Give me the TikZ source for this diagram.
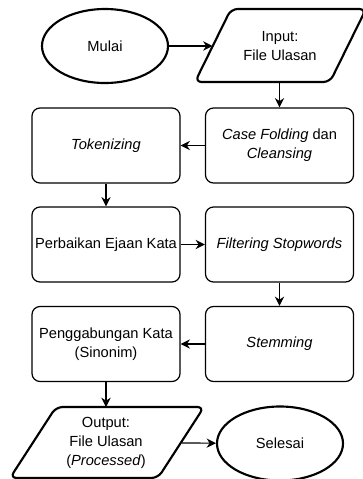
\documentclass[tikz,border=0pt]{standalone}
\usepackage{fontspec}
\setmainfont{Liberation Sans}
\usetikzlibrary{shapes.geometric,arrows.meta}

\tikzset{
  proses/.style={draw, rounded corners=6pt, line width=0.9pt,
    minimum width=111pt, minimum height=56.25pt, align=center, inner sep=2pt},
  terminal/.style={draw, ellipse, line width=1.6pt,
    minimum width=94.5pt, minimum height=55.5pt, align=center},
  data/.style={draw, line width=1.6pt, rounded corners=5pt, line join=round},
  teks/.style={align=center, inner sep=1pt},
  panah/.style={-{Stealth[length=7pt,width=7pt]}, line width=0.9pt},
}

\begin{document}
\begin{tikzpicture}[x=0.75pt, y=-0.75pt, font=\fontsize{11}{14}\selectfont]
\useasboundingbox (0,0) rectangle (362,479);

% === Mulai dan input ===
\node[terminal] (mulai) at (105,46) {Mulai};
\draw[data] (195,82) -- (330,82) -- (366,9) -- (231,9) -- cycle;
\node[teks] (input) at (280,46) {Input:\\File Ulasan};
\coordinate (input-kiri) at (212.5,46);
\coordinate (input-bawah) at (262,82);

% === Proses ===
\node[proses] (casefold) at (279.5,145.5) {\textit{Case Folding} dan\\\textit{Cleansing}};
\node[proses] (token) at (106,145.5) {\textit{Tokenizing}};
\node[proses] (ejaan) at (106,244.5) {Perbaikan Ejaan Kata};
\node[proses] (stopword) at (279.5,244.5) {\textit{Filtering Stopwords}};
\node[proses] (stem) at (279.5,344) {\textit{Stemming}};
\node[proses] (sinonim) at (106,344) {Penggabungan Kata\\(Sinonim)};

% === Output dan selesai ===
\draw[data] (10,478) -- (158,478) -- (204,407) -- (56,407) -- cycle;
\node[teks] (output) at (106,443) {Output:\\File Ulasan\\(\textit{Processed})};
\coordinate (output-kanan) at (182,443);
\coordinate (output-atas) at (130,407);
\node[terminal] (selesai) at (280,443.5) {Selesai};

% Panah
\draw[panah] (mulai) -- (input-kiri);
\draw[panah] (casefold.north |- input-bawah) -- (casefold.north);
\draw[panah] (casefold) -- (token);
\draw[panah] (token) -- (ejaan);
\draw[panah] (ejaan) -- (stopword);
\draw[panah] (stopword) -- (stem);
\draw[panah] (stem) -- (sinonim);
\draw[panah] (sinonim.south) -- (sinonim.south |- output-atas);
\draw[panah] (output-kanan) -- (selesai);

\end{tikzpicture}
\end{document}
